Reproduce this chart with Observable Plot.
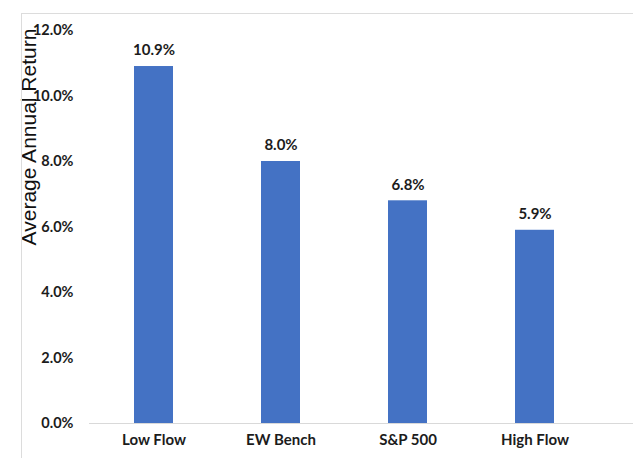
<!DOCTYPE html>
<html>
<head>
<meta charset="utf-8">
<script src="https://cdn.jsdelivr.net/npm/d3@7"></script>
<script src="https://cdn.jsdelivr.net/npm/@observablehq/plot@0.6"></script>
<style>
  html, body { margin: 0; padding: 0; background: #fff; }
  #wrap { position: relative; width: 633px; height: 458px; overflow: hidden; }
  #frame { position: absolute; left: 21px; top: 13px; right: -2px; bottom: -2px;
           border-left: 1px solid #dcdcdc; border-top: 1px solid #dcdcdc; pointer-events: none; }
  svg { display: block; }
</style>
</head>
<body>
<div id="wrap"><div id="frame"></div></div>
<script>
const categories = ["Low Flow", "EW Bench", "S&P 500", "High Flow"];
const returns = [10.9, 8.0, 6.8, 5.9];
const yTicks = [0, 2, 4, 6, 8, 10, 12];
const yLabel = "Average Annual Return";

const data = categories.map((c, i) => ({category: c, value: returns[i]}));
const fmt = d => d.toFixed(1) + "%";
const txt = "#1c1c1c";

const chart = Plot.plot({
  width: 633,
  height: 458,
  marginTop: 30,
  marginBottom: 35,
  marginLeft: 89,
  marginRight: 0,
  style: {background: "transparent", fontFamily: "Lato, sans-serif", color: txt, overflow: "visible"},
  x: {domain: categories, range: [89, 600], paddingInner: 0.69, paddingOuter: 0.345, label: null},
  y: {domain: [0, 12], label: null},
  marks: [
    Plot.barY(data, {x: "category", y: "value", fill: "#4472C4"}),
    Plot.ruleY([0], {stroke: "#d9d9d9", strokeWidth: 1}),
    Plot.text(data, {x: "category", y: "value", text: d => fmt(d.value), dy: -16,
      fontSize: 15, fontWeight: "bold", fill: txt}),
    Plot.axisY({ticks: yTicks, tickFormat: fmt, tickSize: 0, tickPadding: 16, label: null,
      fontSize: 14.5, fontWeight: "bold", fill: txt}),
    Plot.axisX({tickSize: 0, tickPadding: 11, label: null, fontSize: 15, fontWeight: "bold", fill: txt}),
    Plot.text([yLabel], {frameAnchor: "left", rotate: -90, textAnchor: "middle", lineAnchor: "middle",
      dx: -60, dy: -90,
      fontFamily: "Liberation Sans, Arial, sans-serif", fontSize: 21, fill: "#111"})
  ]
});
document.getElementById("wrap").prepend(chart);
</script>
</body>
</html>
